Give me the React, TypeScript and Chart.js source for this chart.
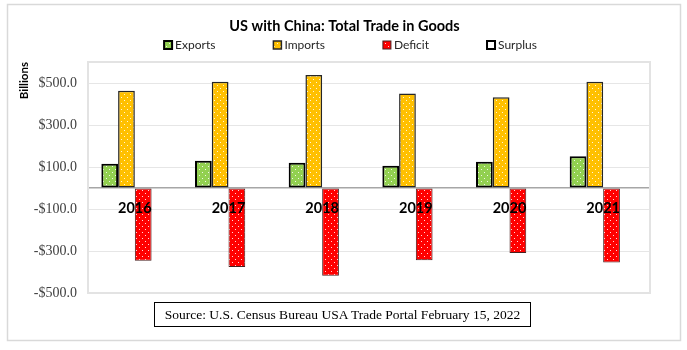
import React, { useEffect, useRef } from 'react';
import { Chart, registerables } from 'chart.js';

Chart.register(...registerables);

const years = ['2016', '2017', '2018', '2019', '2020', '2021'];
const exportsData = [115.6, 129.9, 120.1, 106.4, 124.5, 151.1];
const importsData = [462.6, 505.5, 538.5, 450.4, 432.5, 506.4];
const deficitData = [-347.0, -375.6, -418.4, -344.0, -310.0, -355.3];
const surplusData: (number | null)[] = [null, null, null, null, null, null];
const seriesNames = ['Exports', 'Imports', 'Deficit', 'Surplus'];
const yTicks = [-500, -300, -100, 0, 100, 300, 500];
const yMin = -500;
const yMax = 600;
const chartTitle = 'US with China: Total Trade in Goods';
const yAxisTitle = 'Billions';
const sourceText = 'Source: U.S. Census Bureau USA Trade Portal February 15, 2022';

function makePattern(color: string) {
  const c = document.createElement('canvas');
  c.width = 6;
  c.height = 6;
  const g = c.getContext('2d')!;
  g.fillStyle = color;
  g.fillRect(0, 0, 6, 6);
  g.fillStyle = 'rgba(255,255,255,0.85)';
  g.fillRect(1, 1, 1, 1);
  g.fillRect(4, 4, 1, 1);
  return g.createPattern(c, 'repeat')!;
}

const decor = {
  id: 'decor',
  beforeDraw(chart: any) {
    const { ctx } = chart;
    ctx.save();
    ctx.fillStyle = '#ffffff';
    ctx.fillRect(0, 0, chart.width, chart.height);
    ctx.strokeStyle = '#d9d9d9';
    ctx.lineWidth = 1.5;
    ctx.strokeRect(7.5, 4.5, 673, 336);
    // title
    ctx.font = 'bold 14.5px Lato';
    ctx.fillStyle = '#000000';
    ctx.textAlign = 'center';
    ctx.textBaseline = 'middle';
    ctx.fillText(chartTitle, 344.5, 26);
    // legend
    ctx.font = '12px Lato';
    const box = 8;
    const gapText = 3;
    const gapItem = 58;
    const widths = seriesNames.map((n) => box + gapText + ctx.measureText(n).width);
    const total = widths.reduce((s, w) => s + w, 0) + gapItem * (widths.length - 1);
    let x = 350.5 - total / 2;
    const y = 45;
    ctx.textAlign = 'left';
    chart.data.datasets.forEach((ds: any, i: number) => {
      ctx.fillStyle = ds.backgroundColor;
      ctx.fillRect(x, y - box / 2, box, box);
      ctx.strokeStyle = ds.borderColor;
      ctx.lineWidth = ds.borderWidth;
      ctx.strokeRect(x, y - box / 2, box, box);
      ctx.fillStyle = '#262626';
      ctx.fillText(seriesNames[i], x + box + gapText, y + 0.5);
      x += widths[i] + gapItem;
    });
    ctx.restore();
  },
  beforeDatasetsDraw(chart: any) {
    const { ctx, chartArea: a } = chart;
    ctx.save();
    ctx.strokeStyle = '#e3e3e3';
    ctx.lineWidth = 2;
    ctx.strokeRect(a.left, a.top, a.right - a.left, a.bottom - a.top);
    ctx.restore();
  },
};

export default function App() {
  const ref = useRef<HTMLCanvasElement>(null);
  useEffect(() => {
    const green = makePattern('#92d050');
    const yellow = makePattern('#ffc000');
    const red = makePattern('#ff0000');
    const chart = new Chart(ref.current!, {
      type: 'bar',
      data: {
        labels: years,
        datasets: [
          { label: seriesNames[0], data: exportsData, backgroundColor: green as any, borderColor: '#000000', borderWidth: 2, borderSkipped: false },
          { label: seriesNames[1], data: importsData, backgroundColor: yellow as any, borderColor: '#262626', borderWidth: 1.5, borderSkipped: false },
          { label: seriesNames[2], data: deficitData, backgroundColor: red as any, borderColor: '#4a2020', borderWidth: 1, borderSkipped: false },
          { label: seriesNames[3], data: surplusData as any, backgroundColor: '#ffffff', borderColor: '#000000', borderWidth: 2, borderSkipped: false },
        ],
      },
      options: {
        responsive: false,
        animation: false,
        layout: { padding: { top: 62, bottom: 57, left: 0, right: 37 } },
        datasets: { bar: { barPercentage: 1, categoryPercentage: 0.715 } },
        plugins: {
          legend: { display: false },
          title: { display: false },
          tooltip: { enabled: false },
        },
        scales: {
          x: {
            position: { y: 0 } as any,
            grid: { display: false, drawTicks: false },
            border: { display: true, color: '#a6a6a6', width: 1.5, z: -1 } as any,
            ticks: {
              z: 1,
              color: '#000000',
              font: { family: 'Lato', size: 14.5, weight: 'bold' },
              padding: 12,
              maxRotation: 0,
            } as any,
          },
          y: {
            min: yMin,
            max: yMax,
            afterBuildTicks: (scale: any) => {
              scale.ticks = yTicks.map((v) => ({ value: v }));
            },
            afterFit: (scale: any) => {
              scale.width = 88;
            },
            grid: {
              drawTicks: false,
              color: (c: any) => (c.tick && c.tick.value === 0 ? 'rgba(0,0,0,0)' : '#e6e6e6'),
              lineWidth: 1,
            },
            border: { display: false },
            ticks: {
              color: '#404040',
              font: { family: 'Liberation Serif', size: 14 },
              padding: 11,
              callback: (v: any) => (v === 0 ? '' : (v < 0 ? '-' : '') + '$' + Math.abs(v).toFixed(1)),
            },
            title: {
              display: true,
              text: yAxisTitle,
              align: 'end',
              color: '#000000',
              font: { family: 'Lato', size: 11.5, weight: 'bold' },
              padding: { top: 17.5, bottom: 0 },
            },
          },
        },
      },
      plugins: [decor],
    });
    return () => chart.destroy();
  }, []);

  return (
    <div style={{ position: 'fixed', left: 0, top: 0, width: 687, height: 350, background: '#fff' }}>
      <canvas ref={ref} width={687} height={350} style={{ width: 687, height: 350, display: 'block' }} />
      <div
        style={{
          position: 'absolute',
          left: 154,
          top: 302,
          width: 375,
          height: 23,
          border: '1px solid #000',
          fontFamily: "'Liberation Serif', serif",
          fontSize: 13.5,
          lineHeight: '23px',
          textAlign: 'center',
          color: '#000',
          whiteSpace: 'nowrap',
        }}
      >
        {sourceText}
      </div>
    </div>
  );
}
